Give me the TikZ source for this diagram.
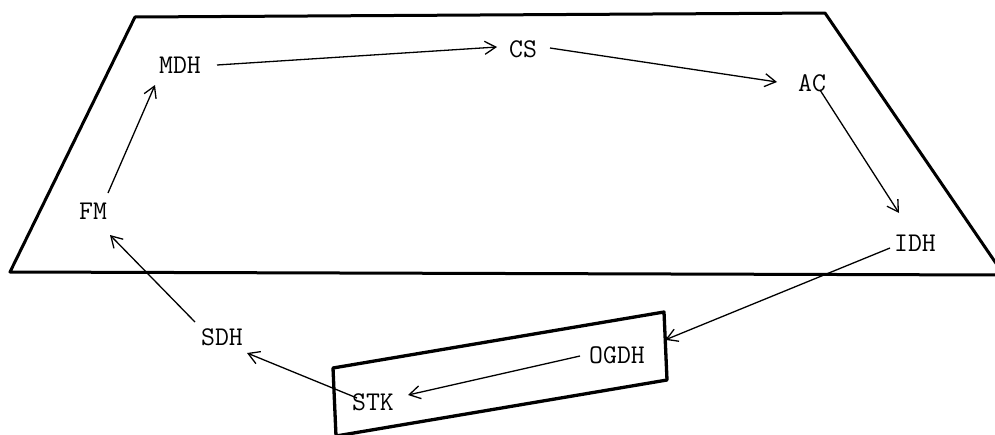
\documentclass[tikz,border=0pt]{standalone}
\usepackage{fontspec}
\usetikzlibrary{arrows.meta,calc}
\tikzset{
  lbl/.style={inner sep=0pt, font=\ttfamily\fontsize{27}{27}\selectfont\addfontfeatures{FakeBold=0.8,FakeStretch=1.15}},
  arr/.style={line width=1.3pt, -{Straight Barb[length=11pt,width=13pt,line width=1.3pt]}},
  plane/.style={line width=3pt, line join=round},
}
\begin{document}
\begin{tikzpicture}[x=1pt,y=-1pt]
\useasboundingbox (0,0) rectangle (995,434);
% plane
\draw[plane] (10,272) -- (135,17) -- (825,13) -- (1004,275) -- cycle;
% box
\coordinate (b1) at (333,368);
\coordinate (b2) at (664,312);
\coordinate (b3) at (667,380);
\coordinate (b4) at (336,436);
\draw[plane, line width=3.3pt] (b4) -- (b1) -- (b2) -- (b3) -- (b4);
% nodes
\node[lbl] (FM) at (93,211) {FM};
\node[lbl] (MDH) at (180,65) {MDH};
\node[lbl] (CS) at (523,49) {CS};
\node[lbl] (AC) at (812,83) {AC};
\node[lbl] (IDH) at (915,243) {IDH};
\node[lbl] (OGDH) at (617,355) {OGDH};
\node[lbl] (STK) at (373,402) {STK};
\node[lbl] (SDH) at (222,337) {SDH};
% arrows
\draw[arr] ($(FM)+(15,-18)$) -- ($(MDH)+(-25,20)$);
\draw[arr] ($(MDH)+(37,0)$) -- ($(CS)+(-26,-2)$);
\draw[arr] ($(CS)+(27,-1)$) -- ($(AC)+(-35,-1)$);
\draw[arr] ($(AC)+(8,7)$) -- ($(IDH)+(-16,-30)$);
\draw[arr] ($(IDH)+(-25,5)$) -- ($(b2)!0.41!(b3)$);
\draw[arr] ($(OGDH)+(-37,1)$) -- ($(STK)+(35,-7)$);
\draw[arr] ($(STK)+(-16,-4)$) -- ($(SDH)+(25,16)$);
\draw[arr] ($(SDH)+(-27,-15)$) -- ($(FM)+(17,24)$);
\end{tikzpicture}
\end{document}
